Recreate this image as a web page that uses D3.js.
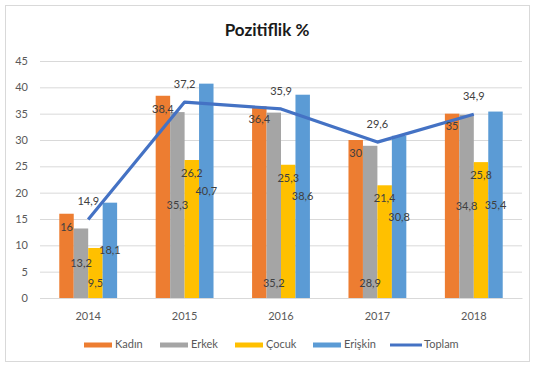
<!DOCTYPE html>
<html>
<head>
<meta charset="utf-8">
<script src="https://cdn.jsdelivr.net/npm/d3@7"></script>
<style>
  html, body { margin: 0; padding: 0; background: #fff; }
  svg { display: block; font-family: Lato, "Liberation Sans", sans-serif; }
</style>
</head>
<body>
<svg id="chart" width="533" height="367"></svg>
<script>
// Yıllara göre pozitiflik oranları (%)
const years   = ["2014", "2015", "2016", "2017", "2018"];
const kadin   = [16, 38.4, 36.4, 30, 35];
const erkek   = [13.2, 35.3, 35.2, 28.9, 34.8];
const cocuk   = [9.5, 26.2, 25.3, 21.4, 25.8];
const eriskin = [18.1, 40.7, 38.6, 30.8, 35.4];
const toplam  = [14.9, 37.2, 35.9, 29.6, 34.9];
const yTicks  = [0, 5, 10, 15, 20, 25, 30, 35, 40, 45];

const barSeries = [
  { name: "Kadın",   values: kadin,   color: "#ED7D31" },
  { name: "Erkek",   values: erkek,   color: "#A5A5A5" },
  { name: "Çocuk",   values: cocuk,   color: "#FFC000" },
  { name: "Erişkin", values: eriskin, color: "#5B9BD5" }
];
const lineColor = "#4472C4";

// Etiket yerleşimi: "end" = çubuğun iç ucu, "center" = orta, "base" = taban
const labelPlacement = {
  "Kadın":   ["end", "end", "end", "end", "end"],
  "Erkek":   ["center", "center", "base", "base", "center"],
  "Çocuk":   ["base", "end", "end", "end", "end"],
  "Erişkin": ["center", "center", "center", "center", "center"]
};

const fmt = v => String(v).replace(".", ",");

const svg = d3.select("#chart");

// Çerçeve
svg.append("rect")
  .attr("x", 5.5).attr("y", 5.5).attr("width", 524).attr("height", 356)
  .attr("fill", "#fff").attr("stroke", "#d9d9d9").attr("stroke-width", 1);

const x0 = d3.scaleBand().domain(years).range([40, 522]).paddingInner(0.4).paddingOuter(0.2);
const x1 = d3.scaleBand().domain(barSeries.map(s => s.name)).range([0, x0.bandwidth()]);
const y  = d3.scaleLinear().domain([0, 45]).range([298, 61]);

// Başlık
svg.append("text")
  .attr("x", 267).attr("y", 36)
  .attr("text-anchor", "middle")
  .attr("font-size", 17).attr("font-weight", "bold").attr("fill", "#1a1a1a")
  .text("Pozitiflik %");

// Y ekseni ve ızgara
const yAxis = svg.append("g").attr("transform", "translate(40,0)")
  .call(d3.axisLeft(y).tickValues(yTicks).tickSize(-482).tickPadding(12).tickFormat(d => d));
yAxis.select(".domain").remove();
yAxis.selectAll(".tick line").attr("stroke", "#d9d9d9");
yAxis.selectAll(".tick text").attr("font-size", 11).attr("fill", "#595959")
  .attr("font-family", "Lato, sans-serif");

// X ekseni
const xAxis = svg.append("g").attr("transform", "translate(0,298)")
  .call(d3.axisBottom(x0).tickSize(0).tickPadding(14));
xAxis.select(".domain").attr("stroke", "#d9d9d9");
xAxis.selectAll(".tick text").attr("font-size", 11).attr("fill", "#595959")
  .attr("font-family", "Lato, sans-serif");

// Çubuklar
const groups = svg.append("g");
barSeries.forEach(s => {
  groups.selectAll(null)
    .data(s.values.map((v, i) => ({ year: years[i], v })))
    .join("rect")
    .attr("x", d => x0(d.year) + x1(s.name))
    .attr("y", d => y(d.v))
    .attr("width", x1.bandwidth())
    .attr("height", d => y(0) - y(d.v))
    .attr("fill", s.color);
});

// Toplam çizgisi
const line = d3.line()
  .x((d, i) => x0(years[i]) + x0.bandwidth() / 2)
  .y(d => y(d));
svg.append("path")
  .datum(toplam)
  .attr("d", line)
  .attr("fill", "none")
  .attr("stroke", lineColor)
  .attr("stroke-width", 3.2)
  .attr("stroke-linejoin", "round");

// Çubuk değer etiketleri
const labels = svg.append("g")
  .attr("font-size", 11).attr("fill", "#404040")
  .attr("text-anchor", "middle").attr("dominant-baseline", "middle");
barSeries.forEach(s => {
  s.values.forEach((v, i) => {
    const place = labelPlacement[s.name][i];
    let ly;
    if (place === "end") ly = y(v) + 14;
    else if (place === "base") ly = y(0) - 14;
    else ly = (y(v) + y(0)) / 2 + 1;
    labels.append("text")
      .attr("x", x0(years[i]) + x1(s.name) + x1.bandwidth() / 2)
      .attr("y", ly)
      .text(fmt(v));
  });
});

// Toplam etiketleri
toplam.forEach((v, i) => {
  labels.append("text")
    .attr("x", x0(years[i]) + x0.bandwidth() / 2)
    .attr("y", y(v) - 17)
    .text(fmt(v));
});

// Gösterge
const legendItems = [
  { name: "Kadın",   color: "#ED7D31", x: 84,  type: "bar" },
  { name: "Erkek",   color: "#A5A5A5", x: 160, type: "bar" },
  { name: "Çocuk",   color: "#FFC000", x: 235, type: "bar" },
  { name: "Erişkin", color: "#5B9BD5", x: 313, type: "bar" },
  { name: "Toplam",  color: lineColor, x: 390, type: "line" }
];
const legend = svg.append("g").attr("transform", "translate(0,345)");
legendItems.forEach(it => {
  if (it.type === "bar") {
    legend.append("rect").attr("x", it.x).attr("y", -2.5).attr("width", 28).attr("height", 5).attr("fill", it.color);
  } else {
    legend.append("line").attr("x1", it.x).attr("x2", it.x + 32).attr("y1", 0).attr("y2", 0)
      .attr("stroke", it.color).attr("stroke-width", 3);
  }
  legend.append("text")
    .attr("x", it.x + (it.type === "bar" ? 31 : 34)).attr("y", 0)
    .attr("dominant-baseline", "middle")
    .attr("font-size", 11).attr("fill", "#595959")
    .text(it.name);
});
</script>
</body>
</html>
